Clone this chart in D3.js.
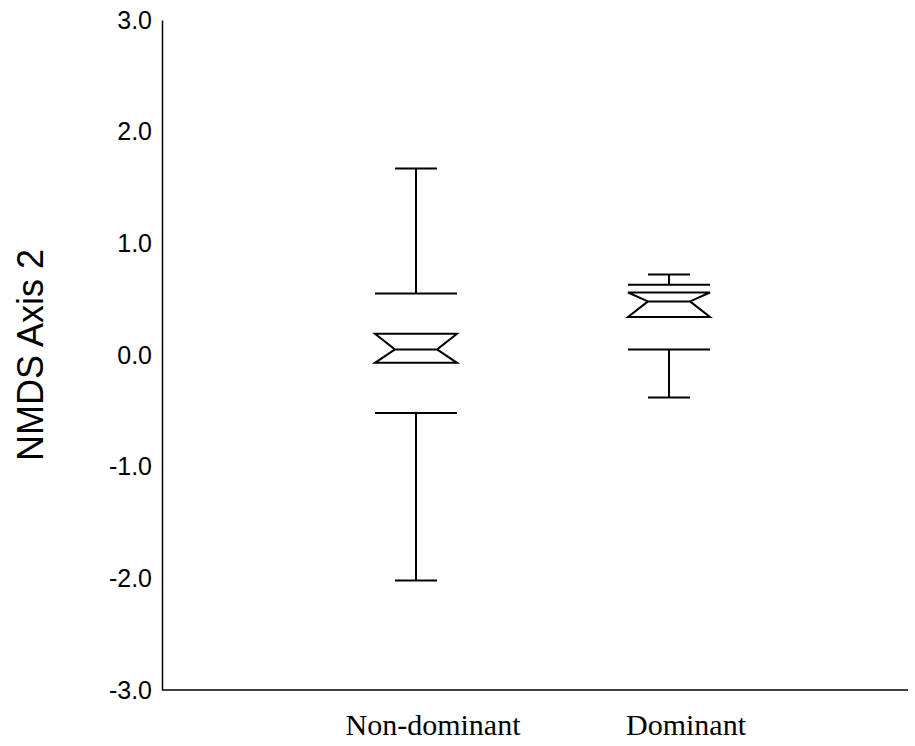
<!DOCTYPE html>
<html>
<head>
<meta charset="utf-8">
<script src="https://cdn.jsdelivr.net/npm/d3@7"></script>
<style>
  body { margin: 0; background: #fff; }
  svg { display: block; }
</style>
</head>
<body>
<div id="chart"></div>
<script>
// values
var categories = ["Non-dominant", "Dominant"];
var whiskerHigh = [1.67, 0.72];
var upperHinge  = [0.55, 0.63];
var notchHigh   = [0.19, 0.56];
var medians     = [0.05, 0.48];
var notchLow    = [-0.07, 0.34];
var lowerHinge  = [-0.52, 0.05];
var whiskerLow  = [-2.02, -0.38];
var yTicks = [-3, -2, -1, 0, 1, 2, 3];

var W = 915, H = 746;
var margin = {top: 20, right: 7, bottom: 56, left: 162};

var BOX_HALF = 41;
var NOTCH_HALF = 21;
var CAP_HALF = 21;
var LABEL_SHIFT = 17;

var svg = d3.select("#chart").append("svg")
	.attr("width", W)
	.attr("height", H);

var y = d3.scaleLinear()
	.domain([-3, 3])
	.range([H - margin.bottom, margin.top]);

var x = d3.scalePoint()
	.domain(categories)
	.range([416, 669]);

// plain hyphen for negatives, like the original
var fmt = function(d) { return d3.format(".1f")(d).replace("\u2212", "-"); };

// y axis: line and labels only, no tick marks
var yAxis = svg.append("g")
	.attr("transform", "translate(" + margin.left + ",0)")
	.call(d3.axisLeft(y).tickValues(yTicks).tickFormat(fmt).tickSize(0).tickSizeOuter(0).tickPadding(10));
yAxis.select(".domain").attr("stroke", "#000").attr("stroke-width", 1.5);
yAxis.selectAll("text")
	.attr("fill", "#000")
	.style("font-family", "'Liberation Sans', Arial, sans-serif")
	.style("font-size", "25px");

// x axis line
svg.append("line")
	.attr("x1", margin.left).attr("x2", W - margin.right)
	.attr("y1", y(-3)).attr("y2", y(-3))
	.attr("stroke", "#000").attr("stroke-width", 1.5);

// category labels
svg.append("g").selectAll("text")
	.data(categories)
	.join("text")
	.attr("x", function(d) { return x(d) + LABEL_SHIFT; })
	.attr("y", 735)
	.attr("text-anchor", "middle")
	.style("font-family", "'Liberation Serif', 'Times New Roman', serif")
	.style("font-size", "30px")
	.text(function(d) { return d; });

// axis title
svg.append("text")
	.attr("transform", "translate(43," + y(0) + ") rotate(-90)")
	.attr("text-anchor", "middle")
	.style("font-family", "'Liberation Sans', Arial, sans-serif")
	.style("font-size", "36px")
	.text("NMDS Axis 2");

function boxPath(i) {
	var cx = x(categories[i]);
	var p = d3.path();
	// upper whisker and cap
	p.moveTo(cx - CAP_HALF, y(whiskerHigh[i])); p.lineTo(cx + CAP_HALF, y(whiskerHigh[i]));
	p.moveTo(cx, y(whiskerHigh[i])); p.lineTo(cx, y(upperHinge[i]));
	// hinges
	p.moveTo(cx - BOX_HALF, y(upperHinge[i])); p.lineTo(cx + BOX_HALF, y(upperHinge[i]));
	p.moveTo(cx - BOX_HALF, y(lowerHinge[i])); p.lineTo(cx + BOX_HALF, y(lowerHinge[i]));
	// notch
	p.moveTo(cx - BOX_HALF, y(notchHigh[i]));
	p.lineTo(cx + BOX_HALF, y(notchHigh[i]));
	p.lineTo(cx + NOTCH_HALF, y(medians[i]));
	p.lineTo(cx + BOX_HALF, y(notchLow[i]));
	p.lineTo(cx - BOX_HALF, y(notchLow[i]));
	p.lineTo(cx - NOTCH_HALF, y(medians[i]));
	p.closePath();
	p.moveTo(cx - NOTCH_HALF, y(medians[i])); p.lineTo(cx + NOTCH_HALF, y(medians[i]));
	// lower whisker and cap
	p.moveTo(cx, y(lowerHinge[i])); p.lineTo(cx, y(whiskerLow[i]));
	p.moveTo(cx - CAP_HALF, y(whiskerLow[i])); p.lineTo(cx + CAP_HALF, y(whiskerLow[i]));
	return p.toString();
}

svg.append("g").selectAll("path")
	.data(d3.range(categories.length))
	.join("path")
	.attr("d", boxPath)
	.attr("fill", "none")
	.attr("stroke", "#000")
	.attr("stroke-width", 2);
</script>
</body>
</html>
